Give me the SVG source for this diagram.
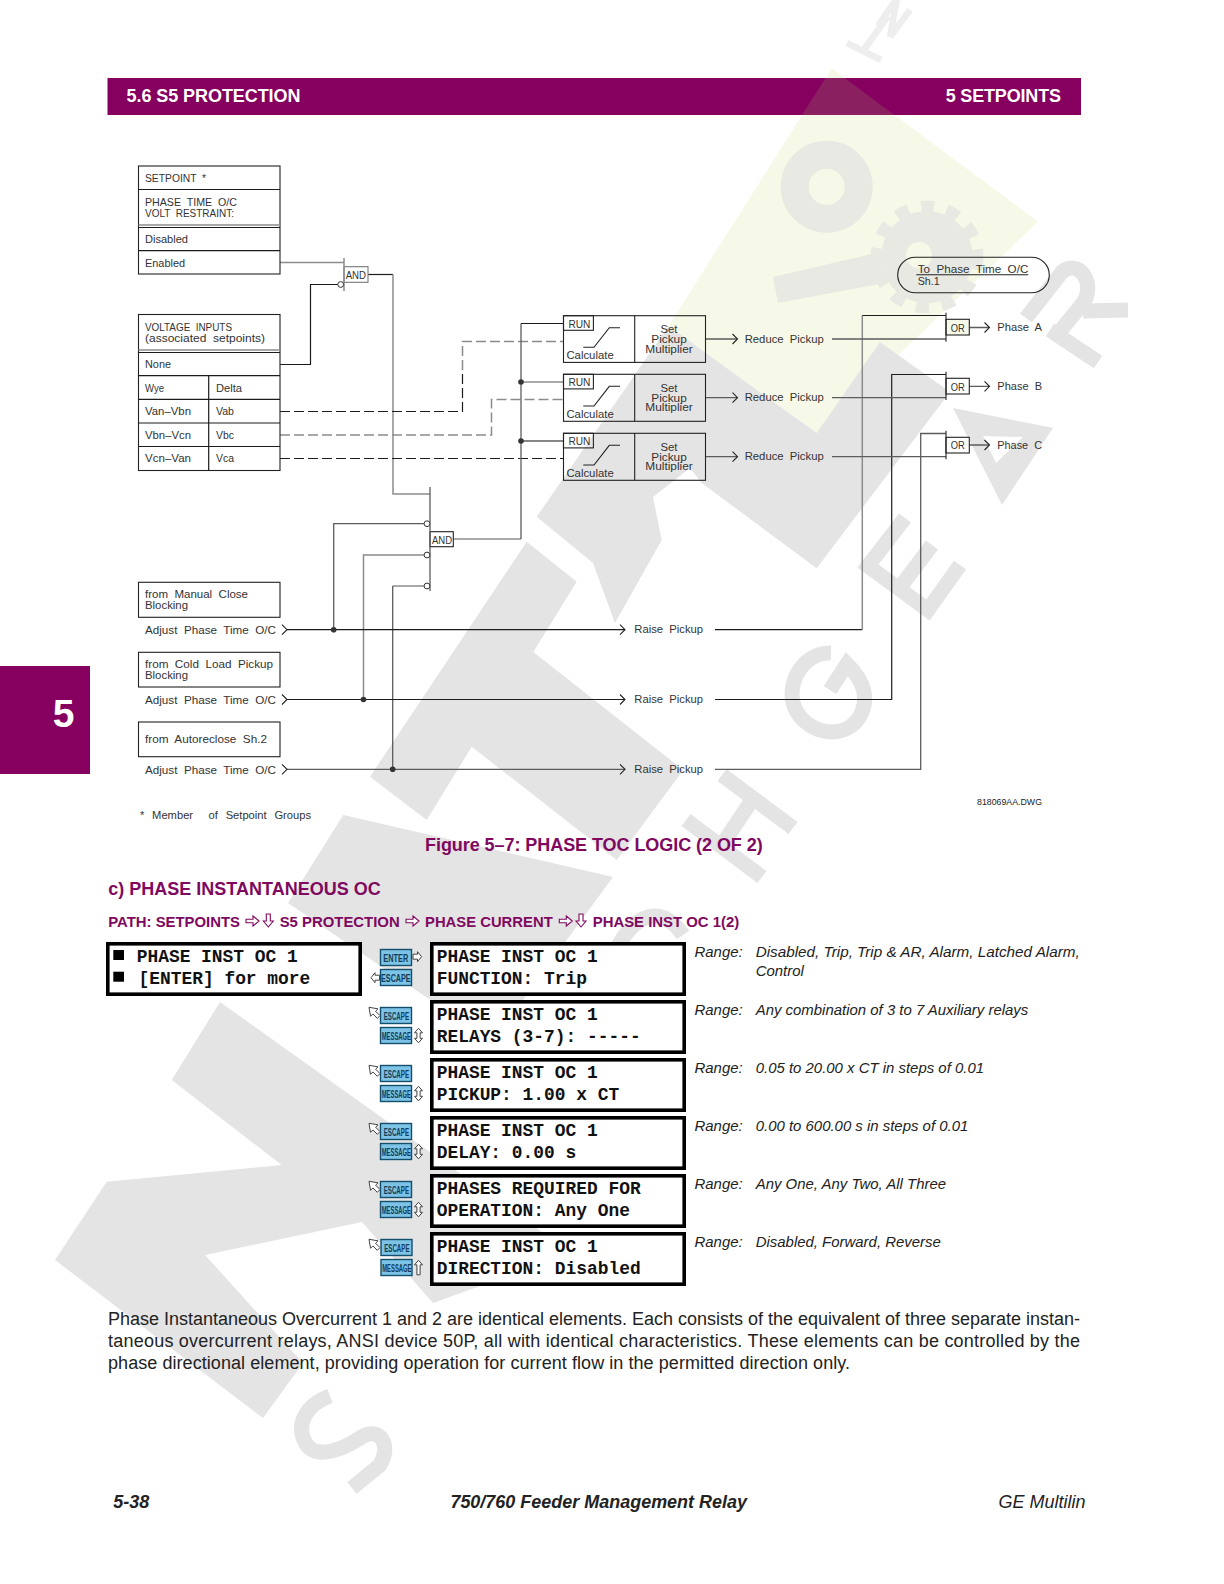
<svg xmlns="http://www.w3.org/2000/svg" width="1224" height="1584" viewBox="0 0 1224 1584">
<style>
.wm{fill:#e4e4e4}
.ws{fill:none;stroke:#e4e4e4;stroke-width:15;stroke-linejoin:miter}
.wy{fill:#e8e9e2}
.c{font-family:"Liberation Sans",Arial,sans-serif;font-size:10.8px;fill:#333;word-spacing:3px}
.b{fill:#fff;stroke:#222;stroke-width:1.1}
.n{fill:none;stroke:#222;stroke-width:1.1}
.k{fill:none;stroke:#1c1c1c;stroke-width:1.2}
.g{fill:none;stroke:#8c8c8c;stroke-width:1.5}
.m{fill:none;stroke:#5c5c5c;stroke-width:1.3}
.dk{stroke-dasharray:10 4}
.p{font-family:"Liberation Sans",Arial,sans-serif;font-weight:700;fill:#80085f}
.hd{font-family:"Liberation Sans",Arial,sans-serif;font-weight:700;font-size:18px;fill:#fff}
.lcd{fill:#fff;stroke:#000;stroke-width:3.6}
.l{font-family:"Liberation Mono","Courier New",monospace;font-weight:700;font-size:17.9px;fill:#111}
.key{fill:#7cc3e6;stroke:#14506e;stroke-width:1.4}
.kt{font-family:"Liberation Sans",Arial,sans-serif;font-weight:700;font-size:11px;fill:#123c58}
.ar{fill:#fff;stroke:#444;stroke-width:1}
.pa{fill:#fff;stroke:#80085f;stroke-width:1.1}
.r{font-family:"Liberation Sans",Arial,sans-serif;font-style:italic;font-size:14.95px;fill:#222}
.t{font-family:"Liberation Sans",Arial,sans-serif;font-size:18px;fill:#222}
.f{font-family:"Liberation Sans",Arial,sans-serif;font-size:18px;font-style:italic;fill:#222}
</style>
<defs>
<path id="ra" d="M0 3.2H7V0L13 5L7 10V6.8H0Z"/>
<path id="da" d="M3 0H7V7H10L5 13L0 7H3Z"/>
<path id="sr" d="M0 2.5H4.5V0L8.5 5L4.5 10V7.5H0Z"/>
<path id="sl" d="M8.5 2.5H4V0L0 5L4 10V7.5H8.5Z"/>
<path id="ul" d="M0 0L9 1.5L6.6 3.9L11 8.3L8.3 11L3.9 6.6L1.5 9Z"/>
<path id="ud" d="M4 0L8 4.5H5.6V10H8L4 14.5L0 10H2.4V4.5H0Z"/>
<path id="up" d="M4 0L8 4.5H5.6V14.5H2.4V4.5H0Z"/>
<path id="chev" d="M-5 -5L0 0L-5 5" fill="none" stroke="#222" stroke-width="1.1"/>
</defs>

<rect width="1224" height="1584" fill="#fff"/>

<g id="watermark">
<polygon points="831.7,68.3 1038,221.7 816.7,433 668.6,326" fill="#f7f9e8"/>
<circle cx="826.7" cy="186.7" r="32" fill="none" stroke="#e8e9e2" stroke-width="28"/>
<polygon class="wy" points="773,277 880,252 885,283 778,303"/>
<circle class="wy" cx="927" cy="257" r="46"/>
<circle cx="927" cy="257" r="51" fill="none" stroke="#e8e9e2" stroke-width="11" stroke-dasharray="13 13"/>
<circle cx="919" cy="255" r="13" fill="#f7f9e8"/>
<path class="ws" style="stroke:#eeeeee;stroke-width:6.5" d="M847 43L881 60M863 51L888 16M878 26L897 -2M897 -2L890 37M890 37L910 10"/>
<polygon class="wm" points="668.6,326 816.7,433 880,342 950,392 816.7,568.3 701.7,483 690,468 653,497 661.7,540 615,623 593,563 536.7,516.7"/>
<polygon class="wm" points="526.7,541.7 576.7,581.7 533.3,652 683.3,770 616.7,860 471.7,746.7 426.7,820 370,776.7"/>
<polygon class="wm" points="343.3,815 613,877 492,1042 288,903"/>
<polygon class="wm" points="55,1260 106.7,1181.7 281.7,1165 171.7,1080 220,1002 560,1245 480,1286 433,1303 362,1222 205,1255 303,1363 263,1418"/>
<path class="ws" d="M330 1396C305 1405 296 1425 305 1442C315 1462 345 1448 360 1438C380 1425 392 1445 380 1465L352 1488"/>
<path class="ws" d="M683 935C662 905 640 915 625 935L600 975"/>
<path class="ws" d="M722 775L793 828M686 820L762 877M752 800L722 845"/>
<path class="ws" d="M831 653C800 652 783 690 797 712C812 737 850 740 862 712C870 692 858 675 847 664L830 690"/>
<path class="ws" d="M905 518L868 566L928 610L960 565M932 545L898 590"/>
<path class="wm" fill-rule="evenodd" d="M953 408L1053 428L1002 505ZM983 436L1023 437L996 463Z"/>
<path class="ws" d="M1128 310L1083 311M1098 362L1050 330M1026 318L1062 272C1080 258 1096 285 1083 303L1057 335"/>
</g>

<g id="header">
<rect x="107.5" y="78" width="973.5" height="37" fill="#85005f"/>
<polygon points="825.6,78 844.7,78 894.4,115 802,115" fill="#8a2060"/>
<text class="hd" x="126.5" y="101.7" textLength="174">5.6 S5 PROTECTION</text>
<text class="hd" x="945.7" y="101.7" textLength="115.3">5 SETPOINTS</text>
</g>
<g id="side-tab">
<rect x="0" y="666" width="90" height="108" fill="#85005f"/>
<text x="63.5" y="727" text-anchor="middle" font-family="Liberation Sans, Arial, sans-serif" font-weight="700" font-size="39" fill="#fff">5</text>
</g>

<g id="connectors">
<path class="g" d="M280 262.5H344"/>
<path class="k" d="M280 364.5H310.5V284.5H338"/>
<path class="k" d="M368 274.5H393"/>
<path class="g" d="M393 274.5V494H430"/>
<path class="k dk" d="M280 411.5H462.5V370"/>
<path class="g dk" d="M462.5 370V341.5H563.5"/>
<path class="g dk" d="M280 435H491.5V399.5H563.5"/>
<path class="k dk" d="M280 458.5H563.5"/>
<path class="g" d="M453.5 539H521"/>
<path class="m" d="M521 539V323.5"/>
<path class="k" d="M521 323.5H563.5"/>
<path class="g" d="M521 382H563.5"/>
<path class="m" d="M521 441H563.5"/>
<circle cx="521" cy="382" r="2.8" fill="#333"/>
<circle cx="521" cy="441" r="2.8" fill="#333"/>
<path class="m" d="M424 523.7H333.7V630"/>
<path class="g" d="M424 555H363.5V699.5"/>
<path class="g" d="M424 586H392.7"/>
<path class="m" d="M392.7 586V769.5"/>
<path class="k" d="M287 629.7H625"/>
<path class="k" d="M287 699.5H625"/>
<path class="m" d="M287 769.3H625"/>
<circle cx="333.7" cy="629.7" r="2.8" fill="#333"/>
<circle cx="363.5" cy="699.5" r="2.8" fill="#333"/>
<circle cx="392.7" cy="769.3" r="2.8" fill="#333"/>
<path class="k" d="M715 629.7H862.3"/>
<path class="g" d="M862.3 629.7V315.5"/>
<path class="k" d="M862.3 315.5H946"/>
<path class="k" d="M715 699.5H891.7V374.5H946"/>
<path class="m" d="M715 769.3H920.7V433.5H946"/>
<path class="m" d="M705.5 339H737M832 339H946"/>
<path class="m" d="M705.5 397.7H737M832 397.7H946"/>
<path class="m" d="M705.5 456.7H737M832 456.7H946"/>
<path class="m" d="M969.3 327.5H989M969.3 386.3H989M969.3 445H989"/>
<use href="#chev" x="737.5" y="339"/><use href="#chev" x="737.5" y="397.7"/><use href="#chev" x="737.5" y="456.7"/>
<use href="#chev" x="989.5" y="327.5"/><use href="#chev" x="989.5" y="386.3"/><use href="#chev" x="989.5" y="445"/>
<use href="#chev" x="625" y="629.7"/><use href="#chev" x="625" y="699.5"/><use href="#chev" x="625" y="769.3"/>
<use href="#chev" x="287" y="629.7"/><use href="#chev" x="287" y="699.5"/><use href="#chev" x="287" y="769.3"/>
</g>

<g id="setpoint-box">
<rect class="b" x="138.5" y="166" width="141.5" height="108"/>
<path class="k" d="M138.5 189.5H280M138.5 227.5H280M138.5 250.7H280"/>
<path class="g" d="M138.5 225H280"/>
<text class="c" x="145" y="182" textLength="61" lengthAdjust="spacingAndGlyphs">SETPOINT *</text>
<text class="c" x="145" y="205.7" textLength="92" lengthAdjust="spacingAndGlyphs">PHASE TIME O/C</text>
<text class="c" x="145" y="216.7" textLength="89" lengthAdjust="spacingAndGlyphs">VOLT RESTRAINT:</text>
<text class="c" x="145" y="243.3" textLength="43" lengthAdjust="spacingAndGlyphs">Disabled</text>
<text class="c" x="145" y="266.7" textLength="40" lengthAdjust="spacingAndGlyphs">Enabled</text>
</g>
<g id="voltage-box">
<rect class="b" x="138.5" y="314.5" width="141.5" height="156"/>
<path class="k" d="M138.5 352.5H280M138.5 375.7H280M138.5 399.3H280M138.5 423H280M138.5 446.5H280M208.7 375.7V470.5"/>
<path class="g" d="M138.5 350H280"/>
<text class="c" x="145" y="330.7" textLength="87" lengthAdjust="spacingAndGlyphs">VOLTAGE INPUTS</text>
<text class="c" x="145" y="341.7" textLength="120" lengthAdjust="spacingAndGlyphs">(associated setpoints)</text>
<text class="c" x="145" y="368.3" textLength="26" lengthAdjust="spacingAndGlyphs">None</text>
<text class="c" x="145" y="392" textLength="19" lengthAdjust="spacingAndGlyphs">Wye</text>
<text class="c" x="216" y="392" textLength="26" lengthAdjust="spacingAndGlyphs">Delta</text>
<text class="c" x="145" y="415.3" textLength="46" lengthAdjust="spacingAndGlyphs">Van–Vbn</text>
<text class="c" x="216" y="415.3" textLength="18" lengthAdjust="spacingAndGlyphs">Vab</text>
<text class="c" x="145" y="438.7" textLength="46" lengthAdjust="spacingAndGlyphs">Vbn–Vcn</text>
<text class="c" x="216" y="438.7" textLength="18" lengthAdjust="spacingAndGlyphs">Vbc</text>
<text class="c" x="145" y="462.3" textLength="46" lengthAdjust="spacingAndGlyphs">Vcn–Van</text>
<text class="c" x="216" y="462.3" textLength="18" lengthAdjust="spacingAndGlyphs">Vca</text>
</g>

<g id="and-1">
<rect x="344" y="266.7" width="24" height="15.6" fill="#fff" stroke="#777" stroke-width="1.1"/>
<path class="g" d="M344 258V291"/>
<circle cx="340.7" cy="284.5" r="2.9" fill="#fff" stroke="#333" stroke-width="1"/>
<text class="c" x="345.7" y="279" textLength="20.3" lengthAdjust="spacingAndGlyphs">AND</text>
</g>
<g id="and-2">
<rect class="b" x="430" y="531.7" width="23.3" height="15"/>
<path class="m" d="M430 487V591"/>
<circle cx="427" cy="523.7" r="2.9" fill="#fff" stroke="#333" stroke-width="1"/>
<circle cx="427" cy="555" r="2.9" fill="#fff" stroke="#333" stroke-width="1"/>
<circle cx="427" cy="586" r="2.9" fill="#fff" stroke="#333" stroke-width="1"/>
<text class="c" x="432" y="543.5" textLength="20" lengthAdjust="spacingAndGlyphs">AND</text>
</g>

<g id="multiplier-a">
<rect class="n" x="563.5" y="315.7" width="142" height="46.7"/>
<path class="n" d="M634.7 315.7V362.4"/>
<rect class="n" x="563.5" y="315.7" width="29.9" height="14.6"/>
<path class="n" d="M583.3 347.3H594L609.3 327.7H620"/>
<text class="c" x="568.4" y="327.7" textLength="22" lengthAdjust="spacingAndGlyphs">RUN</text>
<text class="c" x="566.4" y="359" textLength="47.3" lengthAdjust="spacingAndGlyphs">Calculate</text>
<text class="c" x="669" y="333.3" text-anchor="middle" textLength="17" lengthAdjust="spacingAndGlyphs">Set</text>
<text class="c" x="669" y="343.3" text-anchor="middle" textLength="35.5" lengthAdjust="spacingAndGlyphs">Pickup</text>
<text class="c" x="669" y="352.7" text-anchor="middle" textLength="47.5" lengthAdjust="spacingAndGlyphs">Multiplier</text>
</g>
<g id="multiplier-b">
<rect class="n" x="563.5" y="374.3" width="142" height="47"/>
<path class="n" d="M634.7 374.3V421.3"/>
<rect class="n" x="563.5" y="374.3" width="29.9" height="14.6"/>
<path class="n" d="M583.3 406H594L609.3 386.3H620"/>
<text class="c" x="568.4" y="386.3" textLength="22" lengthAdjust="spacingAndGlyphs">RUN</text>
<text class="c" x="566.4" y="417.6" textLength="47.3" lengthAdjust="spacingAndGlyphs">Calculate</text>
<text class="c" x="669" y="392" text-anchor="middle" textLength="17" lengthAdjust="spacingAndGlyphs">Set</text>
<text class="c" x="669" y="402" text-anchor="middle" textLength="35.5" lengthAdjust="spacingAndGlyphs">Pickup</text>
<text class="c" x="669" y="411.4" text-anchor="middle" textLength="47.5" lengthAdjust="spacingAndGlyphs">Multiplier</text>
</g>
<g id="multiplier-c">
<rect class="n" x="563.5" y="433.3" width="142" height="47"/>
<path class="n" d="M634.7 433.3V480.3"/>
<rect class="n" x="563.5" y="433.3" width="29.9" height="14.6"/>
<path class="n" d="M583.3 465H594L609.3 445.3H620"/>
<text class="c" x="568.4" y="445.3" textLength="22" lengthAdjust="spacingAndGlyphs">RUN</text>
<text class="c" x="566.4" y="476.6" textLength="47.3" lengthAdjust="spacingAndGlyphs">Calculate</text>
<text class="c" x="669" y="451" text-anchor="middle" textLength="17" lengthAdjust="spacingAndGlyphs">Set</text>
<text class="c" x="669" y="461" text-anchor="middle" textLength="35.5" lengthAdjust="spacingAndGlyphs">Pickup</text>
<text class="c" x="669" y="470.4" text-anchor="middle" textLength="47.5" lengthAdjust="spacingAndGlyphs">Multiplier</text>
</g>
<g id="reduce-labels">
<text class="c" x="744.7" y="342.7" textLength="79" lengthAdjust="spacingAndGlyphs">Reduce Pickup</text>
<text class="c" x="744.7" y="401.4" textLength="79" lengthAdjust="spacingAndGlyphs">Reduce Pickup</text>
<text class="c" x="744.7" y="460.4" textLength="79" lengthAdjust="spacingAndGlyphs">Reduce Pickup</text>
</g>
<g id="or-a">
<rect class="n" x="946" y="319.3" width="23.3" height="15.7" style="fill:#f7f9e8"/>
<path class="n" d="M946 312.7V341.7"/>
<text class="c" x="950.7" y="331.7" textLength="14" lengthAdjust="spacingAndGlyphs">OR</text>
<text class="c" x="997.3" y="331" textLength="44.7" lengthAdjust="spacingAndGlyphs">Phase A</text>
</g>
<g id="or-b">
<rect class="b" x="946" y="378.3" width="23.3" height="15.7"/>
<path class="n" d="M946 371.7V400"/>
<text class="c" x="950.7" y="390.5" textLength="14" lengthAdjust="spacingAndGlyphs">OR</text>
<text class="c" x="997.3" y="390" textLength="44.7" lengthAdjust="spacingAndGlyphs">Phase B</text>
</g>
<g id="or-c">
<rect class="b" x="946" y="437.3" width="23.3" height="15.7"/>
<path class="n" d="M946 430.7V459.3"/>
<text class="c" x="950.7" y="449.3" textLength="14" lengthAdjust="spacingAndGlyphs">OR</text>
<text class="c" x="997.3" y="449" textLength="44.7" lengthAdjust="spacingAndGlyphs">Phase C</text>
</g>
<g id="to-phase-time">
<rect x="897.7" y="257.3" width="151.6" height="35.4" rx="17.7" fill="none" stroke="#222" stroke-width="1.1"/>
<text class="c" x="917.7" y="273.3" textLength="110.6" lengthAdjust="spacingAndGlyphs">To Phase Time O/C</text>
<path class="n" d="M916.3 274.8H1028.3"/>
<text class="c" x="917.7" y="285" textLength="22" lengthAdjust="spacingAndGlyphs">Sh.1</text>
</g>

<g id="manual-close">
<rect class="b" x="138.5" y="582.3" width="141.5" height="35"/>
<text class="c" x="145" y="598" textLength="103" lengthAdjust="spacingAndGlyphs">from Manual Close</text>
<text class="c" x="145" y="609" textLength="43" lengthAdjust="spacingAndGlyphs">Blocking</text>
<text class="c" x="145" y="634.3" textLength="131" lengthAdjust="spacingAndGlyphs">Adjust Phase Time O/C</text>
<text class="c" x="634.3" y="633.3" textLength="68.7" lengthAdjust="spacingAndGlyphs">Raise Pickup</text>
</g>
<g id="cold-load">
<rect class="b" x="138.5" y="652.3" width="141.5" height="34.7"/>
<text class="c" x="145" y="668" textLength="128" lengthAdjust="spacingAndGlyphs">from Cold Load Pickup</text>
<text class="c" x="145" y="679" textLength="43" lengthAdjust="spacingAndGlyphs">Blocking</text>
<text class="c" x="145" y="704" textLength="131" lengthAdjust="spacingAndGlyphs">Adjust Phase Time O/C</text>
<text class="c" x="634.3" y="703" textLength="68.7" lengthAdjust="spacingAndGlyphs">Raise Pickup</text>
</g>
<g id="autoreclose">
<rect class="b" x="138.5" y="722" width="141.5" height="34.7"/>
<text class="c" x="145" y="743.3" textLength="122" lengthAdjust="spacingAndGlyphs">from Autoreclose Sh.2</text>
<text class="c" x="145" y="774" textLength="131" lengthAdjust="spacingAndGlyphs">Adjust Phase Time O/C</text>
<text class="c" x="634.3" y="772.7" textLength="68.7" lengthAdjust="spacingAndGlyphs">Raise Pickup</text>
</g>
<text class="c" x="140" y="819" xml:space="preserve" textLength="171" lengthAdjust="spacingAndGlyphs" style="word-spacing:4.5px">* Member  of Setpoint Groups</text>
<text x="977" y="805" font-family="Liberation Sans, Arial, sans-serif" font-size="9" fill="#222" textLength="65" lengthAdjust="spacingAndGlyphs">818069AA.DWG</text>

<text class="p" x="425" y="850.7" font-size="18" textLength="337.7">Figure 5–7: PHASE TOC LOGIC (2 OF 2)</text>
<text class="p" x="108.3" y="895" font-size="18.4" textLength="272.4" lengthAdjust="spacingAndGlyphs">c) PHASE INSTANTANEOUS OC</text>
<g id="path-line">
<text class="p" x="108.3" y="927.3" font-size="14.6" textLength="131.7" lengthAdjust="spacingAndGlyphs">PATH: SETPOINTS</text>
<use class="pa" href="#ra" x="246" y="916"/><use class="pa" href="#da" x="263.3" y="914"/>
<text class="p" x="279.7" y="927.3" font-size="14.6" textLength="120" lengthAdjust="spacingAndGlyphs">S5 PROTECTION</text>
<use class="pa" href="#ra" x="406" y="916"/>
<text class="p" x="425" y="927.3" font-size="14.6" textLength="127.7" lengthAdjust="spacingAndGlyphs">PHASE CURRENT</text>
<use class="pa" href="#ra" x="559.3" y="916"/><use class="pa" href="#da" x="576" y="914"/>
<text class="p" x="592.7" y="927.3" font-size="14.6" textLength="146.6" lengthAdjust="spacingAndGlyphs">PHASE INST OC 1(2)</text>
</g>

<g id="lcd-main">
<rect class="lcd" x="107.8" y="943.8" width="252.4" height="50.4"/>
<rect x="113.3" y="950" width="10.7" height="10" fill="#000"/>
<rect x="113.3" y="971.7" width="10.7" height="10" fill="#000"/>
<text class="l" x="136.7" y="961.5">PHASE INST OC 1</text>
<text class="l" x="138.5" y="983.8">[ENTER] for more</text>
</g>
<g id="lcd-function">
<rect class="lcd" x="431.8" y="943.8" width="252.4" height="50.4"/>
<text class="l" x="436.7" y="961.5">PHASE INST OC 1</text>
<text class="l" x="436.7" y="983.8">FUNCTION: Trip</text>
</g>
<g id="lcd-relays">
<rect class="lcd" x="431.8" y="1001.8" width="252.4" height="50.4"/>
<text class="l" x="436.7" y="1019.5">PHASE INST OC 1</text>
<text class="l" x="436.7" y="1041.8">RELAYS (3-7): -----</text>
</g>
<g id="lcd-pickup">
<rect class="lcd" x="431.8" y="1059.8" width="252.4" height="50.4"/>
<text class="l" x="436.7" y="1077.5">PHASE INST OC 1</text>
<text class="l" x="436.7" y="1099.8">PICKUP: 1.00 x CT</text>
</g>
<g id="lcd-delay">
<rect class="lcd" x="431.8" y="1117.8" width="252.4" height="50.4"/>
<text class="l" x="436.7" y="1135.5">PHASE INST OC 1</text>
<text class="l" x="436.7" y="1157.8">DELAY: 0.00 s</text>
</g>
<g id="lcd-phases">
<rect class="lcd" x="431.8" y="1175.8" width="252.4" height="50.4"/>
<text class="l" x="436.7" y="1193.5">PHASES REQUIRED FOR</text>
<text class="l" x="436.7" y="1215.8">OPERATION: Any One</text>
</g>
<g id="lcd-direction">
<rect class="lcd" x="431.8" y="1233.8" width="252.4" height="50.4"/>
<text class="l" x="436.7" y="1251.5">PHASE INST OC 1</text>
<text class="l" x="436.7" y="1273.8">DIRECTION: Disabled</text>
</g>

<g id="keys-1">
<rect class="key" x="380.5" y="949.5" width="31" height="16"/>
<text class="kt" x="383.3" y="962" textLength="25" lengthAdjust="spacingAndGlyphs">ENTER</text>
<use class="ar" href="#sr" x="413" y="951.7"/>
<rect class="key" x="380.5" y="969.5" width="31" height="16"/>
<text class="kt" x="381" y="982" textLength="29.7" lengthAdjust="spacingAndGlyphs">ESCAPE</text>
<use class="ar" href="#sl" x="371" y="972.7"/>
</g>
<g id="keys-2">
<rect class="key" x="380.5" y="1007.5" width="31" height="16"/>
<text class="kt" x="383.7" y="1020" textLength="25.3" lengthAdjust="spacingAndGlyphs">ESCAPE</text>
<use class="ar" href="#ul" x="369" y="1007.3"/>
<rect class="key" x="380.5" y="1027.5" width="31" height="16"/>
<text class="kt" x="381.7" y="1040" textLength="29.3" lengthAdjust="spacingAndGlyphs">MESSAGE</text>
<use class="ar" href="#ud" x="414.5" y="1028.3"/>
</g>
<g id="keys-3">
<rect class="key" x="380.5" y="1065.5" width="31" height="16"/>
<text class="kt" x="383.7" y="1078" textLength="25.3" lengthAdjust="spacingAndGlyphs">ESCAPE</text>
<use class="ar" href="#ul" x="369" y="1065.3"/>
<rect class="key" x="380.5" y="1085.5" width="31" height="16"/>
<text class="kt" x="381.7" y="1098" textLength="29.3" lengthAdjust="spacingAndGlyphs">MESSAGE</text>
<use class="ar" href="#ud" x="414.5" y="1086.3"/>
</g>
<g id="keys-4">
<rect class="key" x="380.5" y="1123.5" width="31" height="16"/>
<text class="kt" x="383.7" y="1136" textLength="25.3" lengthAdjust="spacingAndGlyphs">ESCAPE</text>
<use class="ar" href="#ul" x="369" y="1123.3"/>
<rect class="key" x="380.5" y="1143.5" width="31" height="16"/>
<text class="kt" x="381.7" y="1156" textLength="29.3" lengthAdjust="spacingAndGlyphs">MESSAGE</text>
<use class="ar" href="#ud" x="414.5" y="1144.3"/>
</g>
<g id="keys-5">
<rect class="key" x="380.5" y="1181.5" width="31" height="16"/>
<text class="kt" x="383.7" y="1194" textLength="25.3" lengthAdjust="spacingAndGlyphs">ESCAPE</text>
<use class="ar" href="#ul" x="369" y="1181.3"/>
<rect class="key" x="380.5" y="1201.5" width="31" height="16"/>
<text class="kt" x="381.7" y="1214" textLength="29.3" lengthAdjust="spacingAndGlyphs">MESSAGE</text>
<use class="ar" href="#ud" x="414.5" y="1202.3"/>
</g>
<g id="keys-6">
<rect class="key" x="381" y="1239.5" width="31" height="16"/>
<text class="kt" x="384.2" y="1252" textLength="25.3" lengthAdjust="spacingAndGlyphs">ESCAPE</text>
<use class="ar" href="#ul" x="369" y="1239.3"/>
<rect class="key" x="381" y="1259.5" width="31" height="16"/>
<text class="kt" x="382.2" y="1272" textLength="29.3" lengthAdjust="spacingAndGlyphs">MESSAGE</text>
<use class="ar" href="#up" x="414.5" y="1260.3"/>
</g>

<g id="ranges">
<text class="r" x="694.5" y="956.7">Range:</text><text class="r" x="755.7" y="956.7" textLength="324" lengthAdjust="spacingAndGlyphs">Disabled, Trip, Trip &amp; AR, Alarm, Latched Alarm,</text>
<text class="r" x="755.7" y="975.8">Control</text>
<text class="r" x="694.5" y="1014.7">Range:</text><text class="r" x="755.7" y="1014.7">Any combination of 3 to 7 Auxiliary relays</text>
<text class="r" x="694.5" y="1072.5">Range:</text><text class="r" x="755.7" y="1072.5">0.05 to 20.00 x CT in steps of 0.01</text>
<text class="r" x="694.5" y="1130.5">Range:</text><text class="r" x="755.7" y="1130.5">0.00 to 600.00 s in steps of 0.01</text>
<text class="r" x="694.5" y="1188.5">Range:</text><text class="r" x="755.7" y="1188.5">Any One, Any Two, All Three</text>
<text class="r" x="694.5" y="1246.5">Range:</text><text class="r" x="755.7" y="1246.5">Disabled, Forward, Reverse</text>
</g>

<g id="body">
<text class="t" x="108" y="1325" textLength="972">Phase Instantaneous Overcurrent 1 and 2 are identical elements. Each consists of the equivalent of three separate instan-</text>
<text class="t" x="108" y="1347" textLength="972">taneous overcurrent relays, ANSI device 50P, all with identical characteristics. These elements can be controlled by the</text>
<text class="t" x="108" y="1369" textLength="742">phase directional element, providing operation for current flow in the permitted direction only.</text>
</g>
<g id="footer">
<text class="f" x="113.3" y="1508.3" font-weight="700">5-38</text>
<text class="f" x="450.4" y="1508.3" font-weight="700" textLength="296.6" lengthAdjust="spacingAndGlyphs">750/760 Feeder Management Relay</text>
<text class="f" x="998.4" y="1508.3">GE Multilin</text>
</g>
</svg>
